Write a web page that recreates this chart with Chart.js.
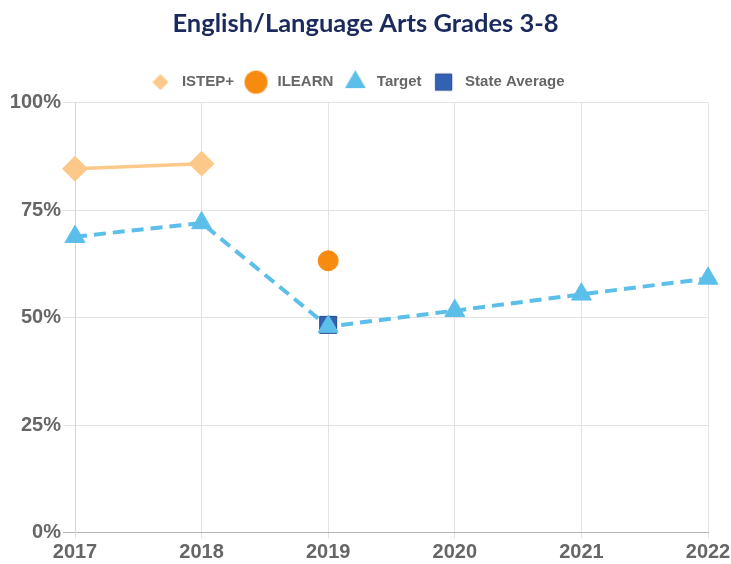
<!DOCTYPE html>
<html>
<head>
<meta charset="utf-8">
<script src="https://cdn.jsdelivr.net/npm/chart.js@4"></script>
<style>
  html, body { margin: 0; padding: 0; background: #fff; }
  #wrap { width: 731px; height: 564px; }
</style>
</head>
<body>
<div id="wrap"><canvas id="chart"></canvas></div>
<script>
const years = ["2017", "2018", "2019", "2020", "2021", "2022"];
const istep = [84.6, 85.8, null, null, null, null];
const ilearn = [null, null, 63.2, null, null, null];
const target = [68.8, 72.0, 47.9, 51.6, 55.4, 59.1];
const stateAvg = [null, null, 48.3, null, null, null];
const yTicks = [0, 25, 50, 75, 100];

const tickFont = { family: "'Liberation Sans', Arial, sans-serif", size: 20, weight: "bold" };

// small canvases so each legend marker can have its own size
const legendIcon = (style, radius, fill, stroke) => {
    const size = Math.ceil(radius * 2 + 4);
    const c = document.createElement("canvas");
    c.width = size;
    c.height = size;
    const ctx = c.getContext("2d");
    ctx.fillStyle = fill;
    ctx.strokeStyle = stroke || fill;
    ctx.lineWidth = 1;
    Chart.helpers.drawPoint(ctx, { pointStyle: style, radius, rotation: 0, borderWidth: stroke ? 1 : 0 }, size / 2, size / 2);
    return c;
};

const icons = [
    legendIcon("rectRot", 8, "#fdc98a"),
    legendIcon("circle", 11.5, "#f68b0f"),
    legendIcon("triangle", 12, "#5bbfea"),
    legendIcon("rect", 11.5, "#3362b2", "#24498f")
];

// legend sits a bit left of centre and has extra room under it
const legendTweaks = {
    id: "legendTweaks",
    beforeInit(chart) {
        const legend = chart.legend;
        const fit = legend.fit;
        legend.fit = function () {
            fit.call(this);
            this.height += 3;
        };
    },
    afterLayout(chart) {
        chart.legend.left -= 10;
        chart.legend.right -= 10;
    }
};

new Chart(document.getElementById("chart"), {
    type: "line",
    data: {
        labels: years,
        datasets: [
            {
                label: "ISTEP+",
                data: istep,
                borderColor: "#fdc98a",
                backgroundColor: "#fdc98a",
                borderWidth: 3.5,
                pointStyle: "rectRot",
                pointRadius: 10.5,
                pointHoverRadius: 10.5,
                spanGaps: false
            },
            {
                label: "ILEARN",
                data: ilearn,
                borderColor: "#f68b0f",
                backgroundColor: "#f68b0f",
                pointStyle: "circle",
                pointRadius: 10,
                pointHoverRadius: 10
            },
            {
                label: "Target",
                data: target,
                borderColor: "#5bbfea",
                backgroundColor: "#5bbfea",
                borderWidth: 4,
                borderDash: [12, 7],
                pointStyle: "triangle",
                pointRadius: 11.5,
                pointHoverRadius: 11.5,
                pointBorderWidth: 1
            },
            {
                label: "State Average",
                data: stateAvg,
                borderColor: "#24498f",
                backgroundColor: "#3362b2",
                pointStyle: "rect",
                pointRadius: 12,
                pointHoverRadius: 12,
                pointBorderWidth: 1
            }
        ]
    },
    options: {
        responsive: true,
        maintainAspectRatio: false,
        animation: false,
        layout: { padding: { left: 0, right: 0, top: 0, bottom: 0 } },
        plugins: {
            title: {
                display: true,
                text: "English/Language Arts Grades 3-8",
                color: "#1b2a5c",
                font: { family: "Lato, 'Open Sans', sans-serif", size: 25.5, weight: "bold" },
                padding: { top: 8, bottom: 28 }
            },
            legend: {
                labels: {
                    usePointStyle: true,
                    pointStyleWidth: 28,
                    color: "#666",
                    font: { family: "'Liberation Sans', Arial, sans-serif", size: 15, weight: "bold" },
                    padding: 8,
                    generateLabels: (chart) => {
                        const items = Chart.defaults.plugins.legend.labels.generateLabels(chart);
                        items.forEach((item, i) => { item.pointStyle = icons[i]; });
                        return items;
                    }
                }
            },
            tooltip: { enabled: false }
        },
        scales: {
            x: {
                afterFit: (axis) => {
                    axis.height = 31.5;
                    axis.paddingRight = 23;
                },
                grid: { color: "#e3e3e3", tickLength: 6 },
                border: { color: "#b4b4b4" },
                ticks: { color: "#666", font: { ...tickFont, lineHeight: 1 }, padding: 4, maxRotation: 0 }
            },
            y: {
                min: 0,
                max: 100,
                afterBuildTicks: (axis) => {
                    axis.ticks = yTicks.map(v => ({ value: v }));
                },
                afterFit: (axis) => {
                    axis.width = 75;
                },
                grid: { color: (ctx) => ctx.tick && ctx.tick.value === 0 ? "#b4b4b4" : "#e3e3e3", tickLength: 12 },
                border: { color: "#d6d6d6" },
                ticks: { color: "#666", font: tickFont, padding: 2, callback: (v) => v + "%" }
            }
        }
    },
    plugins: [legendTweaks]
});
</script>
</body>
</html>
